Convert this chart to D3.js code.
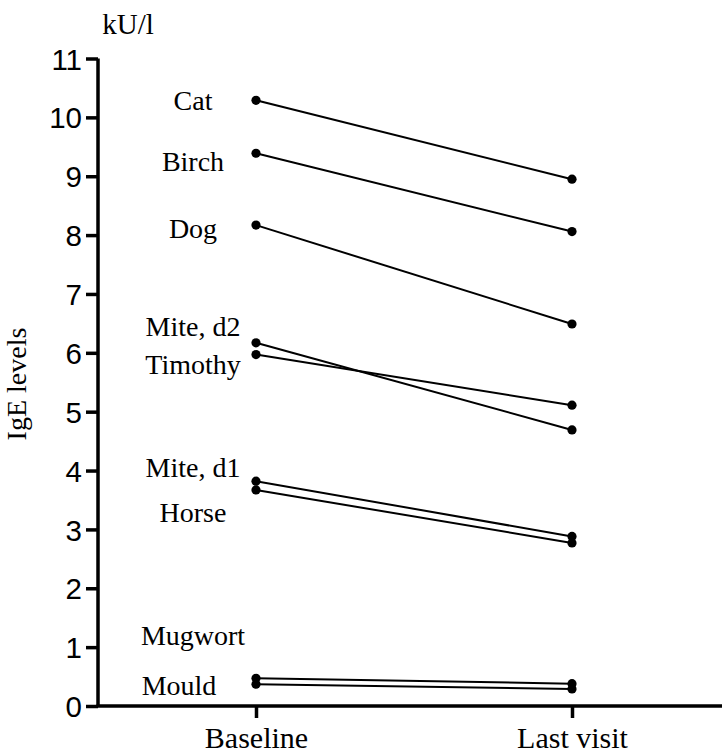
<!DOCTYPE html>
<html lang="en">
<head>
	<meta charset="utf-8">
	<title>IgE levels</title>
	<script src="https://d3js.org/d3.v7.min.js"></script>
</head>
<body style="margin:0;background:#fff;">
	<div id="chart"></div>
<script type="text/javascript">
	var w = 722;
	var h = 754;

	var timepoints = ["Baseline", "Last visit"];
	var allergens = ["Cat", "Birch", "Dog", "Mite, d2", "Timothy", "Mite, d1", "Horse", "Mugwort", "Mould"];
	var baseline = [10.29, 9.39, 8.17, 6.17, 5.97, 3.82, 3.67, 0.47, 0.37];
	var lastVisit = [8.95, 8.06, 6.49, 4.69, 5.11, 2.88, 2.77, 0.38, 0.29];
	// where each name sits, in data units
	var labelAt = [10.3, 9.25, 8.12, 6.45, 5.8, 4.05, 3.3, 1.2, 0.35];
	var yTicks = d3.range(0, 12);

	var svg = d3.select("#chart")
		.append("svg")
		.attr("width", w)
		.attr("height", h);

	var y = d3.scaleLinear().domain([0, 11]).range([706, 58.5]);
	var x = d3.scalePoint().domain(timepoints).range([256, 572]);

	// y axis
	var yAxis = svg.append("g")
		.attr("transform", "translate(98,0)")
		.call(d3.axisLeft(y).tickValues(yTicks).tickSize(12).tickPadding(4).tickFormat(d3.format("d")));
	yAxis.select(".domain").attr("stroke-width", 3.5).attr("d", "M0," + y(11) + "V" + y(0));
	yAxis.selectAll(".tick line").attr("stroke-width", 3.5);
	yAxis.selectAll(".tick text")
		.attr("font-family", "Liberation Sans, Arial, sans-serif")
		.attr("font-size", "29.5px")
		.attr("dy", "0.36em")
		.attr("fill", "#000");

	// x axis
	var xAxis = svg.append("g")
		.attr("transform", "translate(0," + y(0) + ")")
		.call(d3.axisBottom(x).tickSize(12).tickPadding(0));
	xAxis.select(".domain").attr("stroke-width", 3.5).attr("d", "M96.5,0H722");
	xAxis.selectAll(".tick line").attr("stroke-width", 3.5);
	xAxis.selectAll(".tick text")
		.attr("y", 42)
		.attr("dy", 0)
		.attr("font-family", "Liberation Serif, Times New Roman, serif")
		.attr("font-size", "30px")
		.attr("fill", "#000");

	// lines
	svg.selectAll("line.pair")
		.data(allergens)
		.enter()
		.append("line")
		.attr("class", "pair")
		.attr("x1", x("Baseline"))
		.attr("x2", x("Last visit"))
		.attr("y1", function(d, i) { return y(baseline[i]); })
		.attr("y2", function(d, i) { return y(lastVisit[i]); })
		.attr("stroke", "#000")
		.attr("stroke-width", 2);

	svg.selectAll("circle.base")
		.data(baseline)
		.enter()
		.append("circle")
		.attr("cx", x("Baseline"))
		.attr("cy", function(d) { return y(d); })
		.attr("r", 4.6)
		.attr("fill", "#000");

	svg.selectAll("circle.last")
		.data(lastVisit)
		.enter()
		.append("circle")
		.attr("cx", x("Last visit"))
		.attr("cy", function(d) { return y(d); })
		.attr("r", 4.6)
		.attr("fill", "#000");

	// names
	svg.selectAll("text.labels")
		.data(allergens)
		.enter()
		.append("text")
		.text(function(d) { return d; })
		.attr("x", function(d) { return d == "Mould" ? 179 : 193; })
		.attr("y", function(d, i) { return y(labelAt[i]); })
		.attr("dy", "0.35em")
		.attr("text-anchor", "middle")
		.attr("font-family", "Liberation Serif, Times New Roman, serif")
		.attr("font-size", "28px")
		.attr("fill", "#000");

	svg.append("text")
		.text("kU/l")
		.attr("x", 128)
		.attr("y", 34)
		.attr("text-anchor", "middle")
		.attr("font-family", "Liberation Serif, Times New Roman, serif")
		.attr("font-size", "29px");

	svg.append("text")
		.text("IgE levels")
		.attr("transform", "translate(26,384) rotate(-90)")
		.attr("text-anchor", "middle")
		.attr("font-family", "Liberation Serif, Times New Roman, serif")
		.attr("font-size", "28px");
</script>
</body>
</html>
